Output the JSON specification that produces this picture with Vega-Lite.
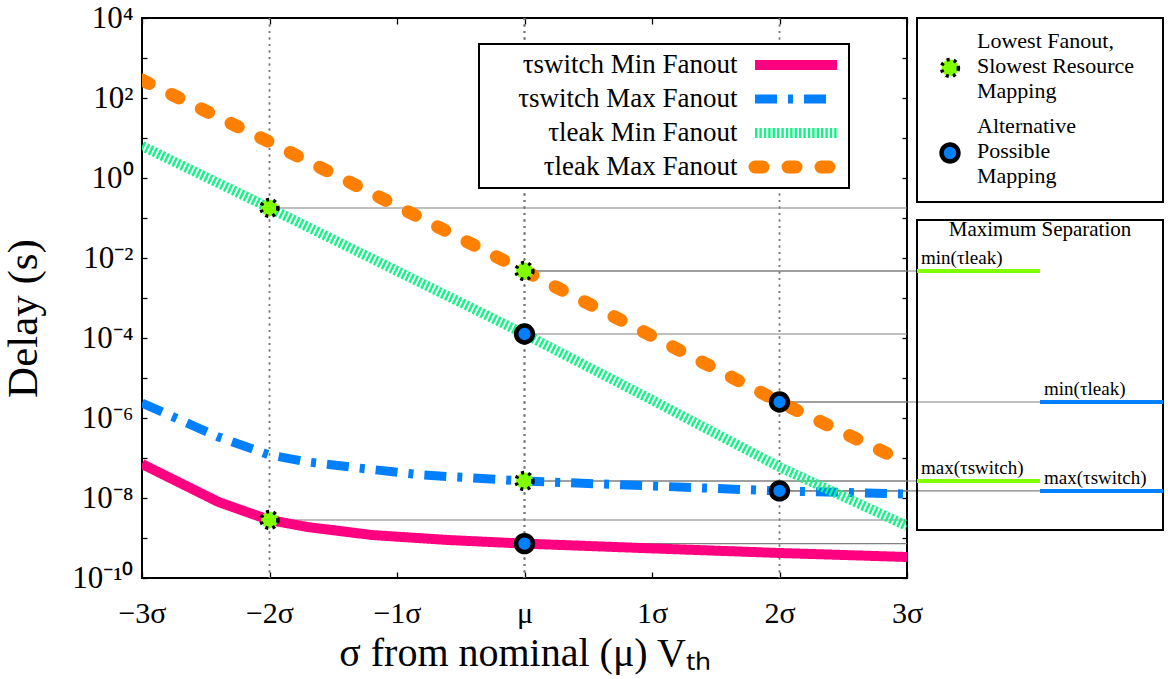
{
  "$schema": "https://vega.github.io/schema/vega-lite/v6.json",
  "autosize": {"type": "none"},
  "padding": {"left": 142, "top": 18, "right": 1026, "bottom": 661},
  "bounds": "flush",
  "spacing": 10,
  "resolve": {"scale": {"x": "independent", "y": "independent"}},
  "config": {
    "font": "Liberation Serif",
    "view": {"stroke": "black", "strokeWidth": 2},
    "axis": {"grid": false, "domain": false, "tickColor": "black", "tickWidth": 1.3, "labelColor": "black", "titleColor": "black", "titleFontWeight": "normal", "labelFlush": false, "labelOverlap": false},
    "title": {"fontWeight": "normal", "color": "black"},
    "legend": {"labelColor": "black", "labelFont": "Liberation Serif"}
  },
  "datasets": {
    "curves": [
      {"series": "τswitch Min Fanout", "sigma": -3, "value": 7.08e-8},
      {"series": "τswitch Min Fanout", "sigma": -2.4, "value": 7.94e-9},
      {"series": "τswitch Min Fanout", "sigma": -2, "value": 2.82e-9},
      {"series": "τswitch Min Fanout", "sigma": -1.7, "value": 1.88e-9},
      {"series": "τswitch Min Fanout", "sigma": -1.2, "value": 1.19e-9},
      {"series": "τswitch Min Fanout", "sigma": -0.6, "value": 8.91e-10},
      {"series": "τswitch Min Fanout", "sigma": 0, "value": 7.24e-10},
      {"series": "τswitch Min Fanout", "sigma": 1, "value": 5.5e-10},
      {"series": "τswitch Min Fanout", "sigma": 2, "value": 4.22e-10},
      {"series": "τswitch Min Fanout", "sigma": 3, "value": 3.35e-10},
      {"series": "τswitch Max Fanout", "sigma": -3, "value": 2.37e-6},
      {"series": "τswitch Max Fanout", "sigma": -2.4, "value": 3.35e-7},
      {"series": "τswitch Max Fanout", "sigma": -2, "value": 1.19e-7},
      {"series": "τswitch Max Fanout", "sigma": -1.7, "value": 7.94e-8},
      {"series": "τswitch Max Fanout", "sigma": -1.3, "value": 5.62e-8},
      {"series": "τswitch Max Fanout", "sigma": -0.8, "value": 3.76e-8},
      {"series": "τswitch Max Fanout", "sigma": 0, "value": 2.66e-8},
      {"series": "τswitch Max Fanout", "sigma": 1, "value": 2.0e-8},
      {"series": "τswitch Max Fanout", "sigma": 2, "value": 1.5e-8},
      {"series": "τswitch Max Fanout", "sigma": 3, "value": 1.26e-8},
      {"series": "τleak Min Fanout", "sigma": -3, "value": 6.31},
      {"series": "τleak Min Fanout", "sigma": -2, "value": 0.178},
      {"series": "τleak Min Fanout", "sigma": -1, "value": 4.73e-3},
      {"series": "τleak Min Fanout", "sigma": 0, "value": 1.26e-4},
      {"series": "τleak Min Fanout", "sigma": 1, "value": 2.82e-6},
      {"series": "τleak Min Fanout", "sigma": 2, "value": 5.96e-8},
      {"series": "τleak Min Fanout", "sigma": 3, "value": 2.0e-9},
      {"series": "τleak Max Fanout", "sigma": -3, "value": 282},
      {"series": "τleak Max Fanout", "sigma": -2, "value": 7.94},
      {"series": "τleak Max Fanout", "sigma": -1, "value": 0.2},
      {"series": "τleak Max Fanout", "sigma": 0, "value": 4.73e-3},
      {"series": "τleak Max Fanout", "sigma": 1, "value": 1.12e-4},
      {"series": "τleak Max Fanout", "sigma": 2, "value": 2.51e-6},
      {"series": "τleak Max Fanout", "sigma": 3, "value": 7.5e-8}
    ],
    "points": [
      {"mapping": "Lowest", "series": "τleak Min Fanout", "sigma": -2, "value": 0.178},
      {"mapping": "Lowest", "series": "τswitch Min Fanout", "sigma": -2, "value": 2.82e-9},
      {"mapping": "Lowest", "series": "τswitch Max Fanout", "sigma": 0, "value": 2.66e-8},
      {"mapping": "Lowest", "series": "τleak Max Fanout", "sigma": 0, "value": 4.73e-3},
      {"mapping": "Alternative", "series": "τswitch Min Fanout", "sigma": 0, "value": 7.24e-10},
      {"mapping": "Alternative", "series": "τleak Min Fanout", "sigma": 0, "value": 1.26e-4},
      {"mapping": "Alternative", "series": "τswitch Max Fanout", "sigma": 2, "value": 1.5e-8},
      {"mapping": "Alternative", "series": "τleak Max Fanout", "sigma": 2, "value": 2.51e-6}
    ],
    "sep": [
      {"mapping": "Lowest", "measure": "min(τleak)", "sigma": 0, "value": 4.73e-3},
      {"mapping": "Lowest", "measure": "max(τswitch)", "sigma": 0, "value": 2.66e-8},
      {"mapping": "Alternative", "measure": "min(τleak)", "sigma": 2, "value": 2.51e-6},
      {"mapping": "Alternative", "measure": "max(τswitch)", "sigma": 2, "value": 1.5e-8}
    ]
  },
  "hconcat": [
    {
      "width": 765,
      "height": 560,
      "resolve": {"axis": {"x": "independent", "y": "independent"}},
      "layer": [
        {
          "data": {"name": "points"},
          "mark": {"type": "rule", "color": "#7a7a7a", "strokeWidth": 1.5, "strokeDash": [2, 4.5]},
          "encoding": {
            "x": {"field": "sigma", "type": "quantitative", "scale": {"domain": [-3, 3], "nice": false, "zero": false},
                  "axis": {"orient": "top", "values": [-3, -2, -1, 0, 1, 2, 3], "labels": false, "tickSize": -6, "title": null}}
          }
        },
        {
          "data": {"name": "points"},
          "mark": {"type": "rule", "color": "#808080", "strokeWidth": 1.2},
          "encoding": {
            "x": {"field": "sigma", "type": "quantitative", "scale": {"domain": [-3, 3], "nice": false, "zero": false}, "axis": null},
            "x2": {"datum": 3},
            "y": {"field": "value", "type": "quantitative", "scale": {"type": "log", "domain": [1e-10, 10000], "nice": false},
                  "axis": {"orient": "right", "values": [1e-10, 1e-9, 1e-8, 1e-7, 1e-6, 1e-5, 1e-4, 1e-3, 0.01, 0.1, 1, 10, 100, 1000, 10000], "labels": false, "tickSize": -5, "title": null}}
          }
        },
        {
          "data": {"name": "sep"},
          "transform": [{"filter": "datum.mapping === 'Lowest'"}],
          "mark": {"type": "rule", "color": "#808080", "strokeWidth": 1.2, "clip": false},
          "encoding": {
            "x": {"field": "sigma", "type": "quantitative", "scale": {"domain": [-3, 3], "nice": false, "zero": false}, "axis": null},
            "x2": {"datum": 3.078},
            "y": {"field": "value", "type": "quantitative", "scale": {"type": "log", "domain": [1e-10, 10000], "nice": false}, "axis": null}
          }
        },
        {
          "data": {"name": "sep"},
          "transform": [{"filter": "datum.mapping === 'Alternative'"}],
          "mark": {"type": "rule", "color": "#808080", "strokeWidth": 1.2, "clip": false},
          "encoding": {
            "x": {"field": "sigma", "type": "quantitative", "scale": {"domain": [-3, 3], "nice": false, "zero": false}, "axis": null},
            "x2": {"datum": 4.051},
            "y": {"field": "value", "type": "quantitative", "scale": {"type": "log", "domain": [1e-10, 10000], "nice": false}, "axis": null}
          }
        },
        {
          "data": {"name": "curves"},
          "transform": [{"filter": "datum.series !== 'τleak Max Fanout'"}],
          "mark": {"type": "line", "strokeCap": "butt", "clip": true},
          "encoding": {
            "x": {"field": "sigma", "type": "quantitative", "scale": {"domain": [-3, 3], "nice": false, "zero": false},
                  "axis": {"orient": "bottom", "values": [-3, -2, -1, 0, 1, 2, 3],
                           "labelExpr": "datum.value == 0 ? 'μ' : (datum.value < 0 ? '−' + abs(datum.value) + 'σ' : datum.value + 'σ')",
                           "tickSize": -6, "labelPadding": 26, "labelFontSize": 30,
                           "title": "σ from nominal (μ) Vₜₕ", "titleFontSize": 40, "titlePadding": 5}},
            "y": {"field": "value", "type": "quantitative", "scale": {"type": "log", "domain": [1e-10, 10000], "nice": false},
                  "axis": {"orient": "left", "values": [1e-10, 1e-9, 1e-8, 1e-7, 1e-6, 1e-5, 1e-4, 1e-3, 0.01, 0.1, 1, 10, 100, 1000, 10000],
                           "labelExpr": "['10⁻¹⁰','','10⁻⁸','','10⁻⁶','','10⁻⁴','','10⁻²','','10⁰','','10²','','10⁴'][round(log(datum.value)/LN10)+10]",
                           "tickSize": -5, "labelPadding": 14, "labelFontSize": 31,
                           "title": "Delay (s)", "titleFontSize": 43, "titleX": -97, "titleY": 300}},
            "stroke": {"field": "series", "type": "nominal",
                       "scale": {"domain": ["τswitch Min Fanout", "τswitch Max Fanout", "τleak Min Fanout", "τleak Max Fanout"], "range": ["#ff0080", "#0080ff", "#10f585", "#ff8000"]},
                       "legend": {"orient": "none", "legendX": 337, "legendY": 26, "title": null, "labelFontSize": 27, "labelAlign": "right", "labelOffset": -106, "symbolOffset": 265.5, "labelLimit": 400, "symbolSize": 6724, "clipHeight": 34, "rowPadding": 0, "strokeColor": "black", "fillColor": "white", "padding": 4,
                                  "encode": {"entries": {"update": {"width": {"value": 362}}}, "symbols": {"update": {"strokeCap": {"signal": "datum.value === 'τleak Max Fanout' ? 'round' : 'butt'"}}}, "legend": {"update": {"strokeWidth": {"value": 2}}}}}},
            "strokeDash": {"field": "series", "type": "nominal",
                           "scale": {"domain": ["τswitch Min Fanout", "τswitch Max Fanout", "τleak Min Fanout", "τleak Max Fanout"], "range": [[1, 0], [22, 11, 5, 11], [2.4, 2], [8, 25]]},
                           "legend": {"orient": "none", "legendX": 337, "legendY": 26, "title": null, "labelFontSize": 27, "labelAlign": "right", "labelOffset": -106, "symbolOffset": 265.5, "labelLimit": 400, "symbolSize": 6724, "clipHeight": 34, "rowPadding": 0, "strokeColor": "black", "fillColor": "white", "padding": 4,
                                      "encode": {"entries": {"update": {"width": {"value": 362}}}, "symbols": {"update": {"strokeCap": {"signal": "datum.value === 'τleak Max Fanout' ? 'round' : 'butt'"}}}, "legend": {"update": {"strokeWidth": {"value": 2}}}}}},
            "strokeWidth": {"field": "series", "type": "nominal",
                            "scale": {"type": "ordinal", "domain": ["τswitch Min Fanout", "τswitch Max Fanout", "τleak Min Fanout", "τleak Max Fanout"], "range": [10, 9, 10, 13]},
                            "legend": {"orient": "none", "legendX": 337, "legendY": 26, "title": null, "labelFontSize": 27, "labelAlign": "right", "labelOffset": -106, "symbolOffset": 265.5, "labelLimit": 400, "symbolSize": 6724, "clipHeight": 34, "rowPadding": 0, "strokeColor": "black", "fillColor": "white", "padding": 4,
                                       "encode": {"entries": {"update": {"width": {"value": 362}}}, "symbols": {"update": {"strokeCap": {"signal": "datum.value === 'τleak Max Fanout' ? 'round' : 'butt'"}}}, "legend": {"update": {"strokeWidth": {"value": 2}}}}}}
          }
        },
        {
          "data": {"name": "curves"},
          "transform": [{"filter": "datum.series === 'τleak Max Fanout'"}],
          "mark": {"type": "line", "strokeCap": "round", "clip": true},
          "encoding": {
            "x": {"field": "sigma", "type": "quantitative", "scale": {"domain": [-3, 3], "nice": false, "zero": false}, "axis": null},
            "y": {"field": "value", "type": "quantitative", "scale": {"type": "log", "domain": [1e-10, 10000], "nice": false}, "axis": null},
            "stroke": {"field": "series", "type": "nominal",
                       "scale": {"domain": ["τswitch Min Fanout", "τswitch Max Fanout", "τleak Min Fanout", "τleak Max Fanout"], "range": ["#ff0080", "#0080ff", "#10f585", "#ff8000"]},
                       "legend": {"orient": "none", "legendX": 337, "legendY": 26, "title": null, "labelFontSize": 27, "labelAlign": "right", "labelOffset": -106, "symbolOffset": 265.5, "labelLimit": 400, "symbolSize": 6724, "clipHeight": 34, "rowPadding": 0, "strokeColor": "black", "fillColor": "white", "padding": 4,
                                  "encode": {"entries": {"update": {"width": {"value": 362}}}, "symbols": {"update": {"strokeCap": {"signal": "datum.value === 'τleak Max Fanout' ? 'round' : 'butt'"}}}, "legend": {"update": {"strokeWidth": {"value": 2}}}}}},
            "strokeDash": {"field": "series", "type": "nominal",
                           "scale": {"domain": ["τswitch Min Fanout", "τswitch Max Fanout", "τleak Min Fanout", "τleak Max Fanout"], "range": [[1, 0], [22, 11, 5, 11], [2.4, 2], [8, 25]]},
                           "legend": {"orient": "none", "legendX": 337, "legendY": 26, "title": null, "labelFontSize": 27, "labelAlign": "right", "labelOffset": -106, "symbolOffset": 265.5, "labelLimit": 400, "symbolSize": 6724, "clipHeight": 34, "rowPadding": 0, "strokeColor": "black", "fillColor": "white", "padding": 4,
                                      "encode": {"entries": {"update": {"width": {"value": 362}}}, "symbols": {"update": {"strokeCap": {"signal": "datum.value === 'τleak Max Fanout' ? 'round' : 'butt'"}}}, "legend": {"update": {"strokeWidth": {"value": 2}}}}}},
            "strokeWidth": {"field": "series", "type": "nominal",
                            "scale": {"type": "ordinal", "domain": ["τswitch Min Fanout", "τswitch Max Fanout", "τleak Min Fanout", "τleak Max Fanout"], "range": [10, 9, 10, 13]},
                            "legend": {"orient": "none", "legendX": 337, "legendY": 26, "title": null, "labelFontSize": 27, "labelAlign": "right", "labelOffset": -106, "symbolOffset": 265.5, "labelLimit": 400, "symbolSize": 6724, "clipHeight": 34, "rowPadding": 0, "strokeColor": "black", "fillColor": "white", "padding": 4,
                                       "encode": {"entries": {"update": {"width": {"value": 362}}}, "symbols": {"update": {"strokeCap": {"signal": "datum.value === 'τleak Max Fanout' ? 'round' : 'butt'"}}}, "legend": {"update": {"strokeWidth": {"value": 2}}}}}}
          }
        },
        {
          "data": {"name": "points"},
          "transform": [{"filter": "datum.mapping === 'Lowest'"}],
          "mark": {"type": "circle", "size": 283, "opacity": 1, "stroke": "black", "strokeWidth": 3.5, "strokeDash": [3, 4.2]},
          "encoding": {
            "x": {"field": "sigma", "type": "quantitative", "scale": {"domain": [-3, 3], "nice": false, "zero": false}, "axis": null},
            "y": {"field": "value", "type": "quantitative", "scale": {"type": "log", "domain": [1e-10, 10000], "nice": false}, "axis": null},
            "fill": {"field": "mapping", "type": "nominal", "scale": {"domain": ["Lowest", "Alternative"], "range": ["#7fff00", "#0080ff"]},
                     "legend": {"orient": "none", "legendX": 797, "legendY": 39, "title": null, "labelFont": "Liberation Serif", "labelFontSize": 22, "labelLimit": 400, "symbolType": "circle", "symbolSize": 283, "symbolStrokeColor": "black", "symbolStrokeWidth": 4, "symbolOpacity": 1, "labelOffset": 16, "rowPadding": 13, "padding": 0,
                                "labelExpr": "datum.value === 'Lowest' ? ['Lowest Fanout,', 'Slowest Resource', 'Mapping'] : ['Alternative', 'Possible', 'Mapping']",
                                "encode": {"labels": {"update": {"lineHeight": {"value": 25}, "dy": {"value": -27}, "font": {"value": "Liberation Serif"}}}, "symbols": {"update": {"strokeDash": {"signal": "datum.value === 'Lowest' ? [3, 4.2] : [1, 0]"}, "strokeWidth": {"signal": "datum.value === 'Lowest' ? 3.5 : 4.5"}}}}}}
          }
        },
        {
          "data": {"name": "points"},
          "transform": [{"filter": "datum.mapping === 'Alternative'"}],
          "mark": {"type": "circle", "size": 283, "opacity": 1, "stroke": "black", "strokeWidth": 4.5},
          "encoding": {
            "x": {"field": "sigma", "type": "quantitative", "scale": {"domain": [-3, 3], "nice": false, "zero": false}, "axis": null},
            "y": {"field": "value", "type": "quantitative", "scale": {"type": "log", "domain": [1e-10, 10000], "nice": false}, "axis": null},
            "fill": {"field": "mapping", "type": "nominal", "scale": {"domain": ["Lowest", "Alternative"], "range": ["#7fff00", "#0080ff"]},
                     "legend": {"orient": "none", "legendX": 797, "legendY": 39, "title": null, "labelFont": "Liberation Serif", "labelFontSize": 22, "labelLimit": 400, "symbolType": "circle", "symbolSize": 283, "symbolStrokeColor": "black", "symbolStrokeWidth": 4, "symbolOpacity": 1, "labelOffset": 16, "rowPadding": 13, "padding": 0,
                                "labelExpr": "datum.value === 'Lowest' ? ['Lowest Fanout,', 'Slowest Resource', 'Mapping'] : ['Alternative', 'Possible', 'Mapping']",
                                "encode": {"labels": {"update": {"lineHeight": {"value": 25}, "dy": {"value": -27}, "font": {"value": "Liberation Serif"}}}, "symbols": {"update": {"strokeDash": {"signal": "datum.value === 'Lowest' ? [3, 4.2] : [1, 0]"}, "strokeWidth": {"signal": "datum.value === 'Lowest' ? 3.5 : 4.5"}}}}}}
          }
        }
      ]
    },
    {
      "vconcat": [
        {
          "width": 246,
          "height": 184,
          "data": {"name": "sep"},
          "mark": {"type": "point", "opacity": 0},
          "encoding": {
            "y": {"field": "mapping", "type": "nominal", "axis": null}
          }
        },
        {
          "width": 246,
          "height": 310,
          "data": {"name": "sep"},
          "title": {"text": "Maximum Separation", "offset": -41, "fontSize": 21, "anchor": "middle", "baseline": "bottom"},
          "layer": [
            {
              "transform": [{"filter": "datum.mapping === 'Lowest'"}],
              "mark": {"type": "tick", "orient": "horizontal", "size": 123, "thickness": 4, "color": "#7fff00", "opacity": 1},
              "encoding": {
                "x": {"field": "mapping", "type": "nominal", "scale": {"domain": ["Lowest", "Alternative"], "paddingInner": 0, "paddingOuter": 0}, "axis": null},
                "y": {"field": "value", "type": "quantitative", "scale": {"type": "log", "domain": [1.585e-9, 0.0891], "nice": false}, "axis": null}
              }
            },
            {
              "transform": [{"filter": "datum.mapping === 'Alternative'"}],
              "mark": {"type": "tick", "orient": "horizontal", "size": 123, "thickness": 4, "color": "#0080ff", "opacity": 1},
              "encoding": {
                "x": {"field": "mapping", "type": "nominal", "scale": {"domain": ["Lowest", "Alternative"], "paddingInner": 0, "paddingOuter": 0}, "axis": null},
                "y": {"field": "value", "type": "quantitative", "scale": {"type": "log", "domain": [1.585e-9, 0.0891], "nice": false}, "axis": null}
              }
            },
            {
              "mark": {"type": "text", "align": "left", "baseline": "bottom", "dx": 4, "dy": -3, "fontSize": 19},
              "encoding": {
                "x": {"field": "mapping", "type": "nominal", "bandPosition": 0, "scale": {"domain": ["Lowest", "Alternative"], "paddingInner": 0, "paddingOuter": 0}, "axis": null},
                "y": {"field": "value", "type": "quantitative", "scale": {"type": "log", "domain": [1.585e-9, 0.0891], "nice": false}, "axis": null},
                "text": {"field": "measure"}
              }
            }
          ]
        }
      ],
      "spacing": 18,
      "bounds": "flush",
      "resolve": {"scale": {"x": "independent", "y": "independent"}}
    }
  ]
}
